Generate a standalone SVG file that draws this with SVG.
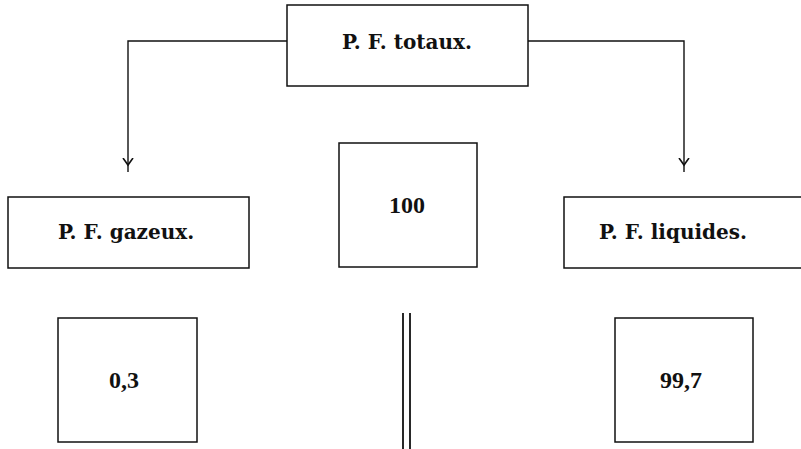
<svg xmlns="http://www.w3.org/2000/svg" width="801" height="449" viewBox="0 0 801 449">
  <style>
    .box { fill: #fff; stroke: #111; stroke-width: 1.5; }
    .lbl { font-family: "DejaVu Serif", "Liberation Serif", serif; font-weight: bold; font-size: 20px; fill: #111; text-anchor: middle; }
    .num { font-family: "Liberation Serif", "DejaVu Serif", serif; font-weight: bold; font-size: 24px; fill: #111; text-anchor: middle; }
    .wire { fill: none; stroke: #111; stroke-width: 1.4; }
  </style>
  <defs>
    <marker id="yarrow" viewBox="0 0 16 12" refX="14" refY="6" markerWidth="16" markerHeight="12" markerUnits="userSpaceOnUse" orient="auto">
      <path d="M0,1 L7,6 L0,11" fill="none" stroke="#111" stroke-width="1.6"/>
    </marker>
  </defs>
  <rect width="801" height="449" fill="#fff"/>
  <g id="connectors">
    <path class="wire" d="M287,41 H128 V172" marker-end="url(#yarrow)"/>
    <path class="wire" d="M528,41 H684 V172" marker-end="url(#yarrow)"/>
    <line x1="403" y1="313" x2="403" y2="449" stroke="#111" stroke-width="1.8"/>
    <line x1="410" y1="313" x2="410" y2="449" stroke="#111" stroke-width="1.8"/>
  </g>
  <g id="totaux">
    <rect class="box" x="287" y="5" width="241" height="81"/>
    <text class="lbl" x="407" y="49">P. F. totaux.</text>
  </g>
  <g id="gazeux">
    <rect class="box" x="8" y="197" width="241" height="71"/>
    <text class="lbl" x="126" y="239">P. F. gazeux.</text>
  </g>
  <g id="cent">
    <rect class="box" x="339" y="143" width="138" height="124"/>
    <text class="num" x="407" y="213">100</text>
  </g>
  <g id="liquides">
    <rect class="box" x="564" y="197" width="250" height="71"/>
    <text class="lbl" x="673" y="239">P. F. liquides.</text>
  </g>
  <g id="gaz_val">
    <rect class="box" x="58" y="318" width="139" height="124"/>
    <text class="num" x="124" y="388">0,3</text>
  </g>
  <g id="liq_val">
    <rect class="box" x="615" y="318" width="138" height="124"/>
    <text class="num" x="681" y="388">99,7</text>
  </g>
</svg>
